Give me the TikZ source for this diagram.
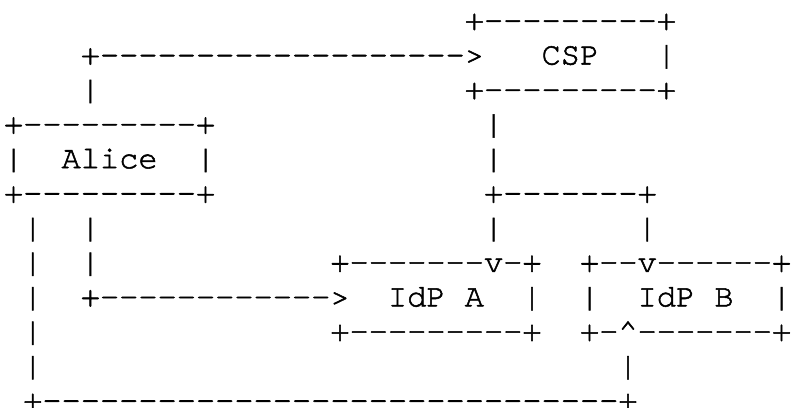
\documentclass[tikz,border=0pt]{standalone}
\usepackage{fontspec}
\newfontfamily\asciifont{texgyrecursor-regular.otf}[FakeBold=1.6]
\tikzset{
  seg/.style={anchor=base west, inner sep=0pt, outer sep=0pt,
    font=\asciifont\fontsize{32}{32}\selectfont, text=black, text depth=0pt},
  lastline/.style={text depth=-3.5pt}
}
% \seg[extra]{name}{column}{line}{text}
\newcommand\seg[5][]{\node[seg,#1] (#2) at ({4+19.2*#3},{30+34.55*#4}) {#5};}
\begin{document}
\begin{tikzpicture}[x=1pt,y=-1pt]
\useasboundingbox (0,0) rectangle (792,407);
% line 0
\seg{csptop}{24}{0}{+---------+}
% line 1
\seg{aliceToCsp}{4}{1}{+------------------->}
\seg{csplabel}{28}{1}{CSP}
\seg{cspright}{34}{1}{|}
% line 2
\seg{aliceUp}{4}{2}{|}
\seg{cspbottom}{24}{2}{+---------+}
% line 3
\seg{alicetop}{0}{3}{+---------+}
\seg{cspDownA}{25}{3}{|}
% line 4
\seg{aliceleft}{0}{4}{|}
\seg{alicelabel}{3}{4}{Alice}
\seg{aliceright}{10}{4}{|}
\seg{cspDownB}{25}{4}{|}
% line 5
\seg{alicebottom}{0}{5}{+---------+}
\seg{split}{25}{5}{+-------+}
% line 6
\seg{leftA}{1}{6}{|}
\seg{midA}{4}{6}{|}
\seg{toIdpA}{25}{6}{|}
\seg{toIdpB}{33}{6}{|}
% line 7
\seg{leftB}{1}{7}{|}
\seg{midB}{4}{7}{|}
\seg{idpatop}{17}{7}{+-------v-+}
\seg{idpbtop}{30}{7}{+--v------+}
% line 8
\seg{leftC}{1}{8}{|}
\seg{aliceToIdpA}{4}{8}{+------------>}
\seg{idpaI}{20}{8}{IdP}
\seg{idpaA}{24}{8}{A}
\seg{idparight}{27}{8}{|}
\seg{idpbleft}{30}{8}{|}
\seg{idpbI}{33}{8}{IdP}
\seg{idpbB}{37}{8}{B}
\seg{idpbright}{40}{8}{|}
% line 9
\seg{leftD}{1}{9}{|}
\seg{idpabottom}{17}{9}{+---------+}
\seg{idpbbottom}{30}{9}{+-\textasciicircum-------+}
% line 10
\seg{leftE}{1}{10}{|}
\seg{upToIdpB}{32}{10}{|}
% line 11
\seg[lastline]{aliceToIdpB}{1}{11}{+------------------------------+}
\end{tikzpicture}
\end{document}
